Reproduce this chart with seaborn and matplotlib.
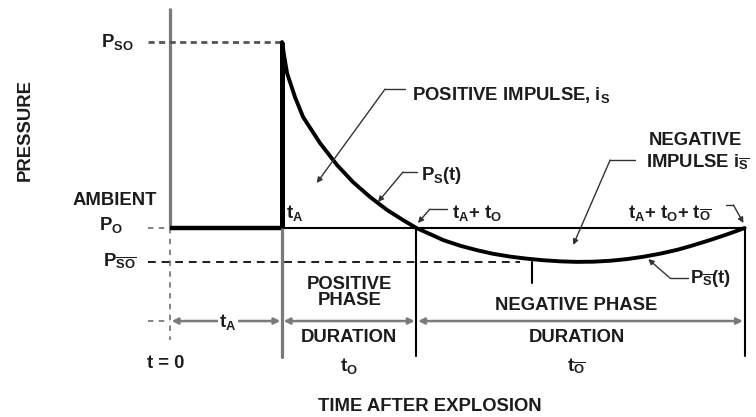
import numpy as np
import pandas as pd
import seaborn as sns
import matplotlib
matplotlib.use("Agg")
import matplotlib.pyplot as plt

# ---- blast wave parameters (time in ms after explosion, pressure as % of peak overpressure) ----
t_arrival = 10.0          # t_A
t_pos = 12.0              # t_O, positive phase duration
t_neg = 29.3              # t_O-, negative phase duration
p_peak = 100.0            # P_SO
p_ambient = 0.0           # P_O
p_min = -18.0             # P_SO-

# positive phase P_S(t)
pos_time = [10.0, 10.18, 10.45, 11.16, 11.88, 13.39, 14.91, 16.34, 17.86, 19.38, 20.80, 22.0]
pos_pressure = [100.0, 93.0, 83.3, 70.4, 59.7, 45.7, 33.9, 24.7, 16.7, 9.7, 4.3, 0.0]

# negative phase P_S-(t)
neg_time = [22.0, 23.2, 24.4, 25.9, 27.4, 28.8, 30.4, 31.9, 33.3, 34.8, 36.3,
            37.8, 39.3, 40.8, 42.2, 43.75, 45.3, 46.7, 48.2, 49.7, 51.3]
neg_pressure = [0.0, -3.2, -6.5, -9.5, -11.9, -13.8, -15.4, -16.5, -17.3, -17.9, -18.2,
                -18.1, -17.6, -16.7, -15.5, -13.8, -11.7, -9.3, -6.5, -3.5, 0.0]

t_end = t_arrival + t_pos + t_neg

sns.set_style("white")
plt.rcParams["font.family"] = ["Liberation Sans", "DejaVu Sans"]
plt.rcParams["font.weight"] = "bold"
plt.rcParams["mathtext.fontset"] = "custom"
plt.rcParams["mathtext.rm"] = "Liberation Sans:bold"
plt.rcParams["mathtext.it"] = "Liberation Sans:bold"
plt.rcParams["mathtext.bf"] = "Liberation Sans:bold"
plt.rcParams["mathtext.default"] = "rm"

fig = plt.figure(figsize=(7.56, 4.17), dpi=100)
ax = fig.add_axes([0, 0, 1, 1])
ax.set_xlim(-15.18, 52.32)
ax.set_ylim(-101.6, 122.6)
ax.axis("off")

INK = "#1c1c1c"
GREY = "#7a7a7a"
FS = 13.3

curve = pd.DataFrame({
    "time": pos_time + neg_time[1:],
    "pressure": pos_pressure + neg_pressure[1:],
})

# pressure axis and the t = 0 marker below ambient
ax.plot([0, 0], [p_ambient, 118.3], color=GREY, lw=2.3, solid_capstyle="butt")
ax.plot([0, 0], [p_ambient, -60], color=GREY, lw=1.3, ls=(0, (3, 3)))

# reference levels
ax.plot([-1.96, t_arrival - 0.2], [p_peak, p_peak], color="#555555", lw=2.0, ls=(0, (2.2, 1.6)))
ax.plot([-1.96, 0], [p_ambient, p_ambient], color=GREY, lw=1.3, ls=(0, (3, 3)))
ax.plot([-1.96, 31.25], [p_min, p_min], color=INK, lw=1.4, ls=(0, (4, 3)))
ax.plot([-1.96, 0], [-50, -50], color=GREY, lw=1.3, ls=(0, (3, 3)))

# ambient pressure before and after arrival
ax.plot([0, t_arrival], [p_ambient, p_ambient], color="black", lw=3.2, solid_capstyle="butt")
ax.plot([t_arrival, t_end], [p_ambient, p_ambient], color="black", lw=1.5)

# phase boundaries
ax.plot([t_arrival, t_arrival], [p_ambient, -69.4], color=GREY, lw=2.3)
ax.plot([t_arrival + t_pos] * 2, [p_ambient, -68.8], color="black", lw=1.5)
ax.plot([t_end] * 2, [p_ambient, -68.8], color="black", lw=1.5)
ax.plot([32.3, 32.3], [-18.3, -29.6], color="black", lw=1.5)

# shock front and pressure history
ax.plot([t_arrival, t_arrival], [p_ambient, p_peak], color="black", lw=3.6, solid_capstyle="butt")
sns.lineplot(data=curve, x="time", y="pressure", color="black", lw=2.8, ax=ax,
             sort=False, estimator=None)
ax.set_xlabel("")
ax.set_ylabel("")

# duration arrows
for a, b in [(0, t_arrival), (t_arrival, t_arrival + t_pos), (t_arrival + t_pos, t_end)]:
    ax.annotate("", xy=(b - 0.15, -50), xytext=(a + 0.15, -50),
                arrowprops=dict(arrowstyle="<|-|>", color=GREY, lw=1.8,
                                mutation_scale=9, shrinkA=0, shrinkB=0))

def leader(points):
    xs, ys = zip(*points[:-1])
    ax.plot(xs, ys, color="#333333", lw=1.0)
    ax.annotate("", xy=points[-1], xytext=points[-2],
                arrowprops=dict(arrowstyle="-|>", color="#333333", lw=1.0,
                                mutation_scale=8, shrinkA=0, shrinkB=0))

leader([(20.98, 74.7), (19.2, 74.7), (13.1, 24.2)])
leader([(22.05, 30.1), (20.8, 30.1), (18.57, 14.0)])
leader([(24.73, 10.2), (23.2, 10.2), (22.14, 2.7)])
leader([(41.5, 36.6), (39.3, 36.6), (36.0, -9.1)])
leader([(49.6, 12.4), (50.3, 12.4), (51.2, 2.7)])
leader([(46.25, -26.9), (44.64, -26.9), (42.7, -16.7)])

def txt(x, y, s, ha="center", **kw):
    ax.text(x, y, s, ha=ha, va="center", fontsize=FS, color=INK, fontweight="bold", **kw)

txt(-12.95, 52.7, "PRESSURE", rotation=90)
txt(-4.73, p_peak, r"P$_{\mathrm{SO}}$")
txt(-4.91, 15.05, "AMBIENT")
txt(-5.27, 1.5, r"P$_{\mathrm{O}}$")
txt(-4.46, p_min, r"P$_{\overline{\mathrm{SO}}}$")
txt(10.36, 8.1, r"t$_{\mathrm{A}}$", ha="left")
txt(21.6, 71.5, r"POSITIVE IMPULSE, i$_{\mathrm{S}}$", ha="left")
txt(22.4, 28.0, r"P$_{\mathrm{S}}$(t)", ha="left")
txt(25.2, 8.1, r"t$_{\mathrm{A}}$+ t$_{\mathrm{O}}$", ha="left")
txt(42.7, 47.3, "NEGATIVE", ha="left")
txt(42.5, 35.5, r"IMPULSE i$_{\overline{\mathrm{S}}}$", ha="left")
txt(40.9, 8.1, r"t$_{\mathrm{A}}$+ t$_{\mathrm{O}}$+ t$_{\overline{\mathrm{O}}}$", ha="left")
txt(46.4, -26.9, r"P$_{\overline{\mathrm{S}}}$(t)", ha="left")
txt(16.0, -34.7, "POSITIVE\nPHASE", linespacing=0.95, multialignment="center")
txt(16.0, -59.1, "DURATION")
txt(16.0, -74.2, r"t$_{\mathrm{O}}$")
txt(36.3, -41.4, "NEGATIVE PHASE")
txt(36.3, -59.1, "DURATION")
txt(36.3, -74.2, r"t$_{\overline{\mathrm{O}}}$")
txt(5.18, -50.5, r"t$_{\mathrm{A}}$",
    bbox=dict(facecolor="white", edgecolor="none", pad=1.0))
txt(-0.36, -72.6, "t = 0")
txt(23.2, -95.7, "TIME AFTER EXPLOSION")

fig.savefig("out.png", dpi=100)
